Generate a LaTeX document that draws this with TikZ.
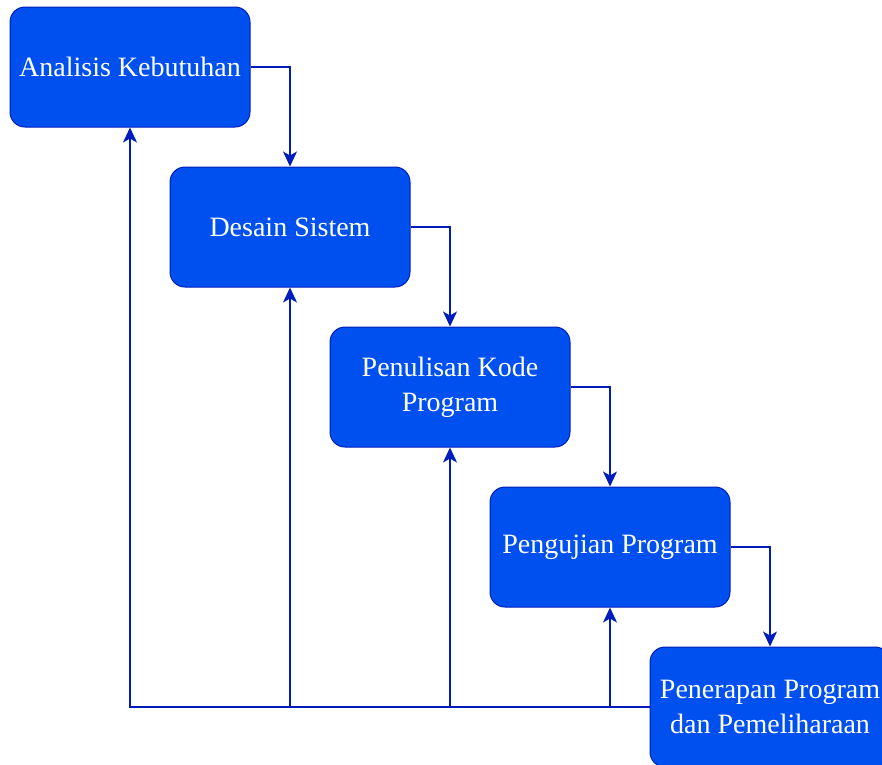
\documentclass[tikz,border=0pt]{standalone}
\usepackage{fontspec}
\setmainfont{Liberation Serif}
\usetikzlibrary{arrows.meta}
\definecolor{tahapisi}{HTML}{0050EF}
\definecolor{tahapgaris}{HTML}{001DBC}

\begin{document}
\begin{tikzpicture}[x=1pt,y=-1pt,
	tahap/.style={draw=tahapgaris,fill=tahapisi,line width=1pt,rounded corners=15pt,
		minimum width=240pt,minimum height=120pt,inner sep=0pt,
		text=white,align=center,font=\fontsize{28}{35}\selectfont},
	alur/.style={draw=tahapgaris,line width=1.5pt,-{Stealth[length=15pt,width=14pt,inset=4pt]}},
	garis/.style={draw=tahapgaris,line width=1.5pt}]
	\useasboundingbox (0,0) rectangle (882,764);
	\clip (0,0) rectangle (882,764);
	% tahapan
	\node[tahap] (analisis) at (130,67) {Analisis Kebutuhan};
	\node[tahap] (desain) at (290,227) {Desain Sistem};
	\node[tahap] (kode) at (450,387) {Penulisan Kode\\Program};
	\node[tahap] (uji) at (610,547) {Pengujian Program};
	\node[tahap] (terap) at (770,707) {Penerapan Program\\dan Pemeliharaan};
	% alur maju
	\draw[alur] (analisis.east) -| (desain.north);
	\draw[alur] (desain.east) -| (kode.north);
	\draw[alur] (kode.east) -| (uji.north);
	\draw[alur] (uji.east) -| (terap.north);
	% umpan balik
	\draw[alur] (terap.west) -| (analisis.south);
	\draw[alur] (terap.west -| desain.south) -- (desain.south);
	\draw[alur] (terap.west -| kode.south) -- (kode.south);
	\draw[alur] (terap.west -| uji.south) -- (uji.south);
\end{tikzpicture}
\end{document}
